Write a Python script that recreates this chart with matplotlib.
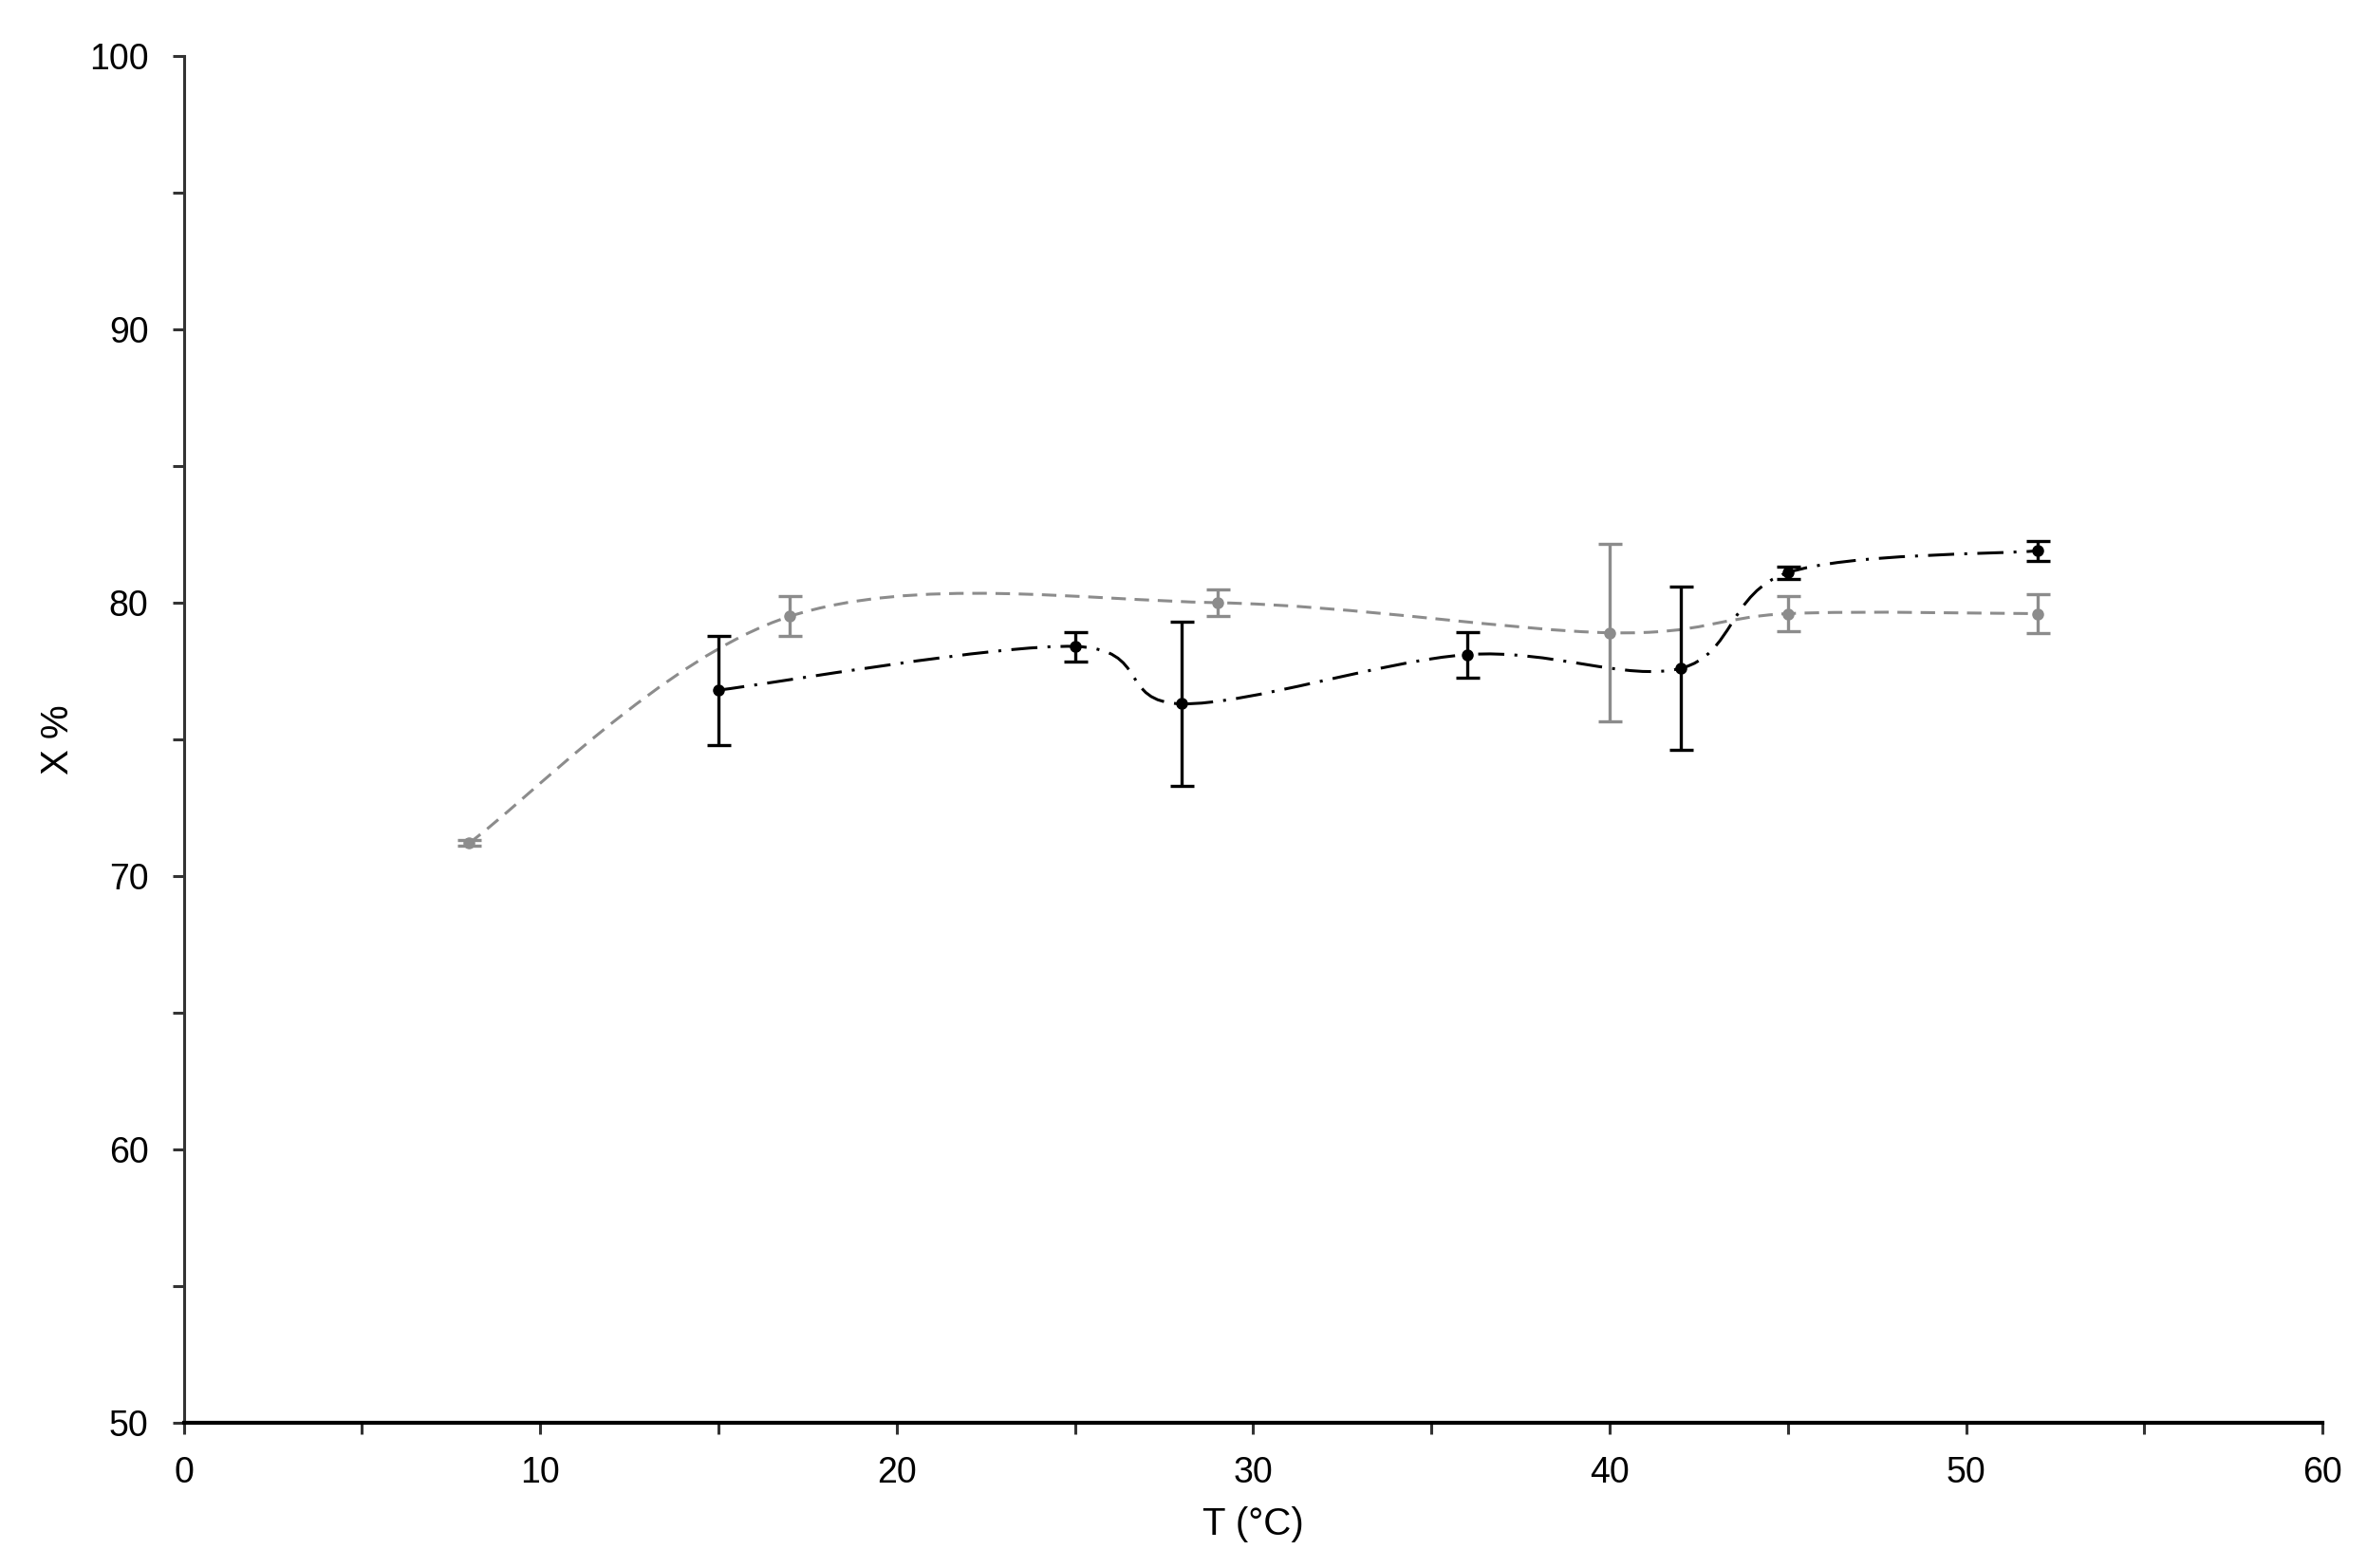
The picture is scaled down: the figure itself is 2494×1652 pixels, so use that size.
import numpy as np
import matplotlib
matplotlib.use('Agg')
import matplotlib.pyplot as plt
from matplotlib.path import Path
from matplotlib.patches import PathPatch
from matplotlib.ticker import MultipleLocator

plt.rcParams['font.family'] = ['Liberation Sans', 'DejaVu Sans']

# gray series (dashed)
t_gray = [8, 17, 29, 40, 45, 52]
x_gray = [71.2, 79.5, 80.0, 78.9, 79.6, 79.6]
e_gray = [0.1, 0.73, 0.47, 3.25, 0.64, 0.7]

# black series (dash-dot)
t_black = [15, 25, 28, 36, 42, 45, 52]
x_black = [76.8, 78.4, 76.3, 78.1, 77.6, 81.1, 81.9]
e_black = [2.0, 0.54, 3.0, 0.83, 3.0, 0.23, 0.36]

x_ticks = [0, 10, 20, 30, 40, 50, 60]
y_ticks = [50, 60, 70, 80, 90, 100]

GRAY = '#8c8c8c'


def smooth_path(xs, ys):
    # smoothed line like Excel: cubic bezier through the points
    p = np.column_stack([xs, ys]).astype(float)
    n = len(p)
    verts = [p[0]]
    codes = [Path.MOVETO]
    for i in range(n - 1):
        p0 = p[i - 1] if i > 0 else p[i]
        p3 = p[i + 2] if i + 2 < n else p[i + 1]
        c1 = p[i] + (p[i + 1] - p0) / 6
        c2 = p[i + 1] - (p3 - p[i]) / 6
        verts += [c1, c2, p[i + 1]]
        codes += [Path.CURVE4] * 3
    return Path(verts, codes)


fig = plt.figure(figsize=(24.94, 16.52), dpi=100)
ax = fig.add_axes([0.0776, 0.0929, 0.9036, 0.8712])

# curves
ax.add_patch(PathPatch(smooth_path(t_gray, x_gray), fill=False,
                       edgecolor=GRAY, lw=2.2, linestyle=(0, (5, 3)), zorder=2))
ax.add_patch(PathPatch(smooth_path(t_black, x_black), fill=False,
                       edgecolor='black', lw=2.2, linestyle=(0, (9, 3.5, 1, 3.5)), zorder=2))

# points + error bars
ax.errorbar(t_gray, x_gray, yerr=e_gray, fmt='o', color=GRAY, ms=8,
            elinewidth=2.4, capsize=9, capthick=2.4, zorder=3)
ax.errorbar(t_black, x_black, yerr=e_black, fmt='o', color='black', ms=8,
            elinewidth=2.4, capsize=9, capthick=2.4, zorder=4)

ax.set_xlim(0, 60)
ax.set_ylim(50, 100)
ax.set_xticks(x_ticks)
ax.set_yticks(y_ticks)
ax.xaxis.set_minor_locator(MultipleLocator(5))
ax.yaxis.set_minor_locator(MultipleLocator(5))

for s in ['top', 'right']:
    ax.spines[s].set_visible(False)
ax.spines['bottom'].set_linewidth(3)
ax.spines['bottom'].set_color('black')
ax.spines['left'].set_linewidth(2.2)
ax.spines['left'].set_color('#333333')

ax.tick_params(which='both', direction='out', length=8.6, width=2.2,
               labelsize=27, colors='#333333', labelcolor='black')
ax.tick_params(axis='y', pad=18)
ax.tick_params(axis='x', pad=17)

ax.set_xlabel('T (°C)', fontsize=29)
ax.set_ylabel('X %', fontsize=29)
ax.xaxis.set_label_coords(0.5, -0.0615)
ax.yaxis.set_label_coords(-0.0505, 0.5)

fig.savefig('out.png', dpi=100)
